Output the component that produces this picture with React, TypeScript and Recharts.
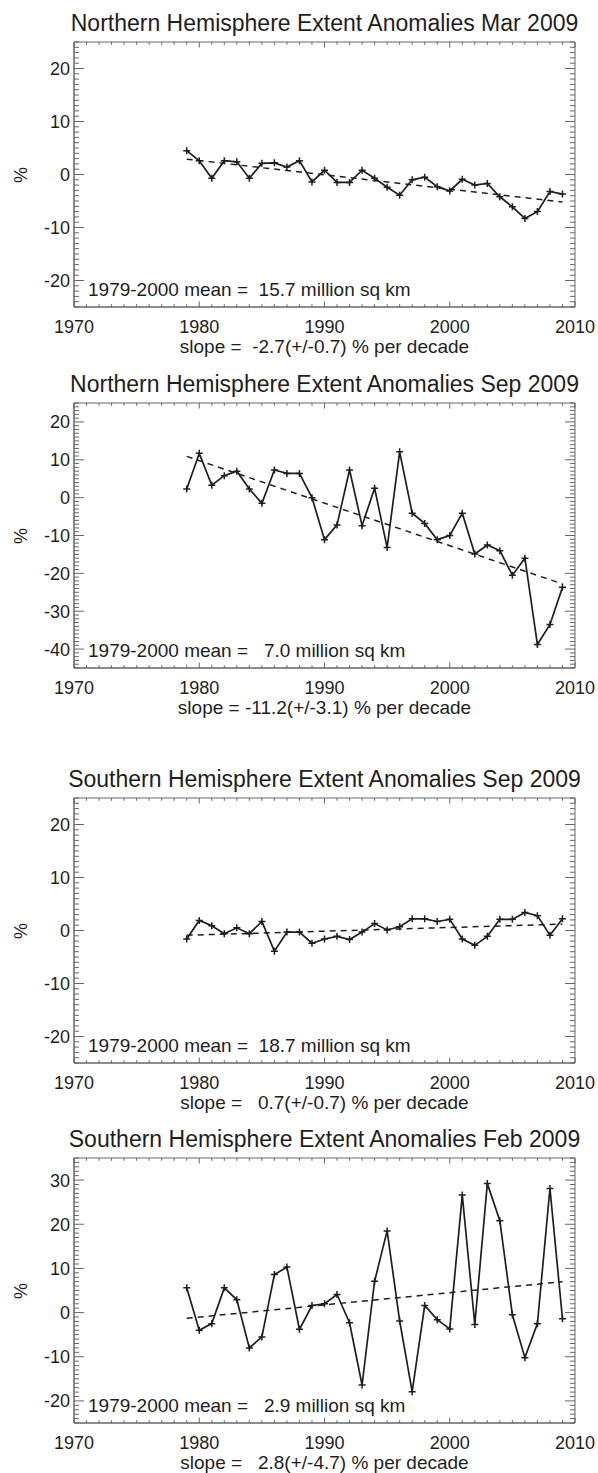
import { LineChart, Line, XAxis, YAxis, ReferenceArea } from "recharts";

const YEARS = [
  1979, 1980, 1981, 1982, 1983, 1984, 1985, 1986, 1987, 1988, 1989, 1990, 1991, 1992, 1993, 1994,
  1995, 1996, 1997, 1998, 1999, 2000, 2001, 2002, 2003, 2004, 2005, 2006, 2007, 2008, 2009,
];

const NH_MAR = [
  4.5, 2.6, -0.7, 2.6, 2.4, -0.7, 2.1, 2.2, 1.4, 2.6, -1.4, 0.8, -1.5, -1.5, 0.8, -0.7,
  -2.4, -3.9, -1.0, -0.5, -2.3, -3.1, -0.9, -2.0, -1.7, -4.2, -6.1, -8.3, -7.0, -3.2, -3.7,
];
const NH_SEP = [
  2.3, 11.7, 3.3, 5.8, 7.0, 2.3, -1.5, 7.3, 6.4, 6.4, 0.0, -11.1, -7.2, 7.3, -7.4, 2.5,
  -13.2, 12.1, -4.1, -6.8, -11.1, -10.0, -4.1, -14.9, -12.5, -14.0, -20.5, -16.0, -38.8, -33.5, -23.7,
];
const SH_SEP = [
  -1.6, 1.9, 0.9, -0.6, 0.5, -0.6, 1.7, -3.9, -0.3, -0.3, -2.4, -1.6, -1.1, -1.7, -0.3, 1.3,
  0.1, 0.7, 2.2, 2.2, 1.7, 2.1, -1.6, -2.8, -1.1, 2.1, 2.1, 3.4, 2.8, -0.9, 2.2,
];
const SH_FEB = [
  5.6, -4.0, -2.5, 5.6, 2.9, -8.0, -5.5, 8.6, 10.3, -3.8, 1.6, 2.0, 4.1, -2.3, -16.4, 7.1,
  18.5, -1.9, -17.9, 1.6, -1.6, -3.7, 26.6, -2.7, 29.2, 20.8, -0.5, -10.2, -2.5, 28.1, -1.4,
];

// trend line end values (1979, 2009)
const TREND_NH_MAR = [2.9, -5.2];
const TREND_NH_SEP = [10.9, -22.8];
const TREND_SH_SEP = [-0.9, 1.2];
const TREND_SH_FEB = [-1.3, 7.0];

const X_LABELS = [1970, 1980, 1990, 2000, 2010];
const Y_LABELS_A = [-20, -10, 0, 10, 20];
const Y_LABELS_B = [-40, -30, -20, -10, 0, 10, 20];
const Y_LABELS_C = [-20, -10, 0, 10, 20, 30];

const INK = "#1e1e1e";
const AXIS = "#666";
const FONT = '"Liberation Sans", Arial, Helvetica, sans-serif';
const PLOT_LEFT = 74;
const PLOT_RIGHT = 575;
const PLOT_W = PLOT_RIGHT - PLOT_LEFT;
const PLOT_H = 265;
const TOP_PAD = 10;
const X_AXIS_H = 40;

const range = (a: number, b: number) => {
  const out: number[] = [];
  for (let v = a; v <= b; v++) out.push(v);
  return out;
};

const Plus = (p: any) => {
  if (p.cx == null || p.cy == null) return <g key={p.index} />;
  return (
    <path
      key={p.index}
      d={`M${p.cx - 3.5},${p.cy}h7M${p.cx},${p.cy - 3.5}v7`}
      stroke={INK}
      strokeWidth={1.5}
      fill="none"
    />
  );
};

// bottom axis tick: also draws the mirrored tick on the top edge of the box
function makeBottomTick(labels: number[]) {
  return (p: any) => {
    const v = p.payload.value;
    const major = labels.includes(v);
    const len = major ? 5.5 : 2.8;
    const top = p.y - PLOT_H;
    return (
      <g>
        <line x1={p.x} x2={p.x} y1={p.y} y2={p.y - len} stroke={AXIS} />
        <line x1={p.x} x2={p.x} y1={top} y2={top + len} stroke={AXIS} />
        {major && (
          <text x={p.x} y={p.y + 25.5} textAnchor="middle" fontSize={18} fill={INK} fontFamily={FONT}>
            {v}
          </text>
        )}
      </g>
    );
  };
}

// left axis tick: also draws the mirrored tick on the right edge of the box
function makeLeftTick(labels: number[]) {
  return (p: any) => {
    const v = p.payload.value;
    const major = labels.includes(v);
    const len = major ? 10 : 5;
    const right = p.x + PLOT_W;
    return (
      <g>
        <line x1={p.x} x2={p.x + len} y1={p.y} y2={p.y} stroke={AXIS} />
        <line x1={right} x2={right - len} y1={p.y} y2={p.y} stroke={AXIS} />
        {major && (
          <text x={p.x - 4} y={p.y + 6.5} textAnchor="end" fontSize={18} fill={INK} fontFamily={FONT}>
            {v}
          </text>
        )}
      </g>
    );
  };
}

type PanelProps = {
  plotTop: number;
  title: string;
  values: number[];
  trend: number[];
  yDomain: [number, number];
  yLabels: number[];
  mean: string;
  slope: string;
};

function Panel({ plotTop, title, values, trend, yDomain, yLabels, mean, slope }: PanelProps) {
  const data = YEARS.map((year, i) => ({
    year,
    value: values[i],
    trend: i === 0 ? trend[0] : i === YEARS.length - 1 ? trend[1] : null,
  }));
  const xTicks = range(1970, 2010);
  const yTicks = range(yDomain[0], yDomain[1]);
  const plotBottom = plotTop + PLOT_H;
  const center = (PLOT_LEFT + PLOT_RIGHT) / 2;

  return (
    <>
      <div
        style={{
          position: "absolute", left: center - 300, width: 600, top: plotTop - 34, height: 30,
          lineHeight: "30px", textAlign: "center", fontSize: 23, color: INK, whiteSpace: "nowrap",
        }}
      >
        {title}
      </div>
      <div
        style={{
          position: "absolute", left: 21 - 15, width: 30, top: plotTop + PLOT_H / 2 - 11, height: 22,
          lineHeight: "22px", textAlign: "center", fontSize: 18, color: INK, transform: "rotate(-90deg)",
        }}
      >
        %
      </div>
      <div style={{ position: "absolute", left: 0, top: plotTop - TOP_PAD }}>
        <LineChart
          width={598}
          height={TOP_PAD + PLOT_H + X_AXIS_H}
          data={data}
          margin={{ top: TOP_PAD, right: 598 - PLOT_RIGHT, bottom: 0, left: 0 }}
        >
          <XAxis
            dataKey="year" type="number" domain={[1970, 2010]} allowDataOverflow
            ticks={xTicks} interval={0} height={X_AXIS_H}
            tickSize={0} tickMargin={0} tickLine={false}
            axisLine={{ stroke: AXIS }} tick={makeBottomTick(X_LABELS)}
          />
          <YAxis
            type="number" domain={yDomain} allowDataOverflow ticks={yTicks} interval={0}
            width={PLOT_LEFT} tickSize={0} tickMargin={0} tickLine={false}
            axisLine={{ stroke: AXIS }} tick={makeLeftTick(yLabels)}
          />
          <ReferenceArea
            x1={1970} x2={2010} y1={yDomain[0]} y2={yDomain[1]}
            fill="none" fillOpacity={0} stroke={AXIS} strokeWidth={1} ifOverflow="visible"
          />
          <Line
            dataKey="trend" stroke={INK} strokeWidth={1.5} strokeDasharray="6 5"
            dot={false} connectNulls isAnimationActive={false}
          />
          <Line
            dataKey="value" stroke={INK} strokeWidth={1.7} dot={Plus}
            activeDot={false} isAnimationActive={false}
          />
        </LineChart>
      </div>
      <div
        style={{
          position: "absolute", left: 88, top: plotBottom - 17.5 - 11, height: 22, lineHeight: "22px",
          fontSize: 19, color: INK, whiteSpace: "pre",
        }}
      >
        {mean}
      </div>
      <div
        style={{
          position: "absolute", left: center - 300, width: 600, top: plotBottom + 39.5 - 11, height: 22,
          lineHeight: "22px", textAlign: "center", fontSize: 19, color: INK, whiteSpace: "pre",
        }}
      >
        {slope}
      </div>
    </>
  );
}

export default function App() {
  return (
    <div
      style={{
        position: "absolute", left: 0, top: 0, width: 598, height: 1473, background: "#fff",
        fontFamily: FONT, overflow: "hidden",
      }}
    >
      <Panel
        plotTop={42}
        title="Northern Hemisphere Extent Anomalies Mar 2009"
        values={NH_MAR}
        trend={TREND_NH_MAR}
        yDomain={[-25, 25]}
        yLabels={Y_LABELS_A}
        mean="1979-2000 mean =  15.7 million sq km"
        slope="slope =  -2.7(+/-0.7) % per decade"
      />
      <Panel
        plotTop={403}
        title="Northern Hemisphere Extent Anomalies Sep 2009"
        values={NH_SEP}
        trend={TREND_NH_SEP}
        yDomain={[-45, 25]}
        yLabels={Y_LABELS_B}
        mean="1979-2000 mean =   7.0 million sq km"
        slope="slope = -11.2(+/-3.1) % per decade"
      />
      <Panel
        plotTop={798}
        title="Southern Hemisphere Extent Anomalies Sep 2009"
        values={SH_SEP}
        trend={TREND_SH_SEP}
        yDomain={[-25, 25]}
        yLabels={Y_LABELS_A}
        mean="1979-2000 mean =  18.7 million sq km"
        slope="slope =   0.7(+/-0.7) % per decade"
      />
      <Panel
        plotTop={1158}
        title="Southern Hemisphere Extent Anomalies Feb 2009"
        values={SH_FEB}
        trend={TREND_SH_FEB}
        yDomain={[-25, 35]}
        yLabels={Y_LABELS_C}
        mean="1979-2000 mean =   2.9 million sq km"
        slope="slope =   2.8(+/-4.7) % per decade"
      />
    </div>
  );
}
